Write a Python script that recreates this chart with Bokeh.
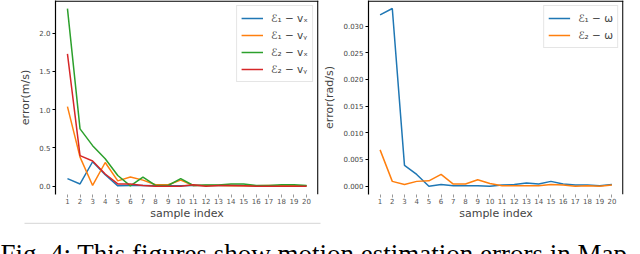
from bokeh.plotting import figure
from bokeh.models import (Range1d, FixedTicker, Legend, LegendItem,
                          PrintfTickFormatter, Label, BoxAnnotation)
from bokeh.layouts import column, row
from bokeh.embed import file_html
from bokeh.resources import INLINE

# ---------------- data ----------------
sample_index = list(range(1, 21))

e1_vx = [0.10, 0.03, 0.32, 0.15, 0.005, 0.01, 0.01, 0.005, 0.005, 0.005,
         0.01, 0.01, 0.01, 0.01, 0.01, 0.005, 0.005, 0.005, 0.005, 0.005]
e1_vy = [1.04, 0.38, 0.01, 0.31, 0.07, 0.12, 0.08, 0.02, 0.02, 0.08,
         0.01, 0.01, 0.01, 0.005, 0.005, 0.005, 0.01, 0.005, 0.005, 0.005]
e2_vx = [2.32, 0.75, 0.53, 0.36, 0.14, 0.005, 0.12, 0.01, 0.01, 0.10,
         0.01, 0.015, 0.015, 0.03, 0.03, 0.01, 0.01, 0.02, 0.02, 0.01]
e2_vy = [1.73, 0.40, 0.33, 0.16, 0.03, 0.03, 0.01, 0.0, 0.0, 0.0,
         0.02, 0.0, 0.01, 0.01, 0.005, 0.0, 0.0, 0.0, 0.0, 0.0]

e1_w = [0.0321, 0.0333, 0.0039, 0.0022, 0.0, 0.0003, 0.0001, 0.0001, 0.0001, 0.0,
        0.0002, 0.0003, 0.0006, 0.0004, 0.0009, 0.0004, 0.0002, 0.0002, 0.0001, 0.0003]
e2_w = [0.0068, 0.0009, 0.0003, 0.0009, 0.0010, 0.0022, 0.0004, 0.0004, 0.0012, 0.0005,
        0.0001, 0.0001, 0.0001, 0.0001, 0.0003, 0.0002, 0.0, 0.0001, 0.0, 0.0002]

left_yticks = [0.0, 0.5, 1.0, 1.5, 2.0]
right_yticks = [0.0, 0.005, 0.010, 0.015, 0.020, 0.025, 0.030]

left_labels = ["ℰ₁ − vₓ", "ℰ₁ − vᵧ", "ℰ₂ − vₓ", "ℰ₂ − vᵧ"]
right_labels = ["ℰ₁ − ω", "ℰ₂ − ω"]

caption = "Fig. 4: This figures show motion estimation errors in Map"

COLORS = ["#1f77b4", "#ff7f0e", "#2ca02c", "#d62728"]
FONT = "DejaVu Sans"
TOP_H = 222
FRAME_H = 194
X0, X1 = 0.05, 20.95


def make_fig(yr, yticks, yfmt, ylabel, bl, br):
    p = figure(width=320, height=TOP_H, x_range=Range1d(X0, X1), y_range=yr,
               output_backend="svg", toolbar_location=None,
               min_border_left=bl, min_border_right=br, min_border_top=0,
               min_border_bottom=TOP_H - FRAME_H)
    p.grid.visible = False
    p.outline_line_color = None
    p.background_fill_color = "white"
    p.border_fill_color = "white"

    xa = p.xaxis[0]
    xa.ticker = FixedTicker(ticks=sample_index)
    xa.axis_line_color = None
    xa.major_tick_line_color = "#999999"
    xa.major_tick_out = 3
    xa.major_tick_in = 0
    xa.minor_tick_line_color = None
    xa.major_label_text_font = FONT
    xa.major_label_text_font_size = "7px"
    xa.major_label_text_color = "#555555"
    xa.major_label_standoff = 0
    xa.axis_label = "sample index"
    xa.axis_label_text_font = FONT
    xa.axis_label_text_font_size = "11px"
    xa.axis_label_text_font_style = "normal"
    xa.axis_label_standoff = 0

    ya = p.yaxis[0]
    ya.ticker = FixedTicker(ticks=yticks)
    ya.formatter = PrintfTickFormatter(format=yfmt)
    ya.axis_line_color = "black"
    ya.axis_line_width = 1.2
    ya.major_tick_line_color = "black"
    ya.major_tick_out = 3
    ya.major_tick_in = 0
    ya.minor_tick_line_color = None
    ya.major_label_text_font = FONT
    ya.major_label_text_font_size = "7px"
    ya.major_label_text_color = "#444444"
    ya.major_label_standoff = 2
    ya.axis_label = ylabel
    ya.axis_label_text_font = FONT
    ya.axis_label_text_font_size = "11px"
    ya.axis_label_text_font_style = "normal"
    ya.axis_label_standoff = 4

    # top and right spines as thin filled strips inside the frame
    frame_w = 320 - bl - br
    dy = (yr.end - yr.start) / FRAME_H * 1.3
    dx = (X1 - X0) / frame_w * 1.3
    p.add_layout(BoxAnnotation(bottom=yr.end - dy, top=yr.end, left=X0, right=X1,
                               fill_color="black", fill_alpha=1, line_color=None))
    p.add_layout(BoxAnnotation(left=X1 - dx, right=X1, bottom=yr.start, top=yr.end,
                               fill_color="black", fill_alpha=1, line_color=None))
    return p


left = make_fig(Range1d(-0.108, 2.427), left_yticks, "%.1f", "error(m/s)", 55, 2)
right = make_fig(Range1d(-0.00156, 0.0348), right_yticks, "%.3f", "error(rad/s)", 42, 17)


def add_legend(p, series, labels):
    items = []
    for ys, lab, col in zip(series, labels, COLORS):
        r = p.line(sample_index, ys, line_color=col, line_width=1.5)
        items.append(LegendItem(label=lab, renderers=[r]))
    lg = Legend(items=items, location="top_right", margin=5, padding=4, spacing=1,
                label_text_font=FONT, label_text_font_size="10.5px",
                label_height=16, glyph_height=16, glyph_width=22, label_standoff=8,
                border_line_color="#cccccc", border_line_width=1,
                background_fill_color="white", background_fill_alpha=0.8)
    p.add_layout(lg)


add_legend(left, [e1_vx, e1_vy, e2_vx, e2_vy], left_labels)
add_legend(right, [e1_w, e2_w], right_labels)

BOT_H = 254 - TOP_H
bottom = figure(width=640, height=BOT_H, x_range=Range1d(0, 640), y_range=Range1d(BOT_H, 0),
                output_backend="svg", toolbar_location=None,
                x_axis_type=None, y_axis_type=None, min_border=0)
bottom.grid.visible = False
bottom.outline_line_color = None
bottom.add_layout(BoxAnnotation(left=24, right=320, top=0, bottom=1.5,
                                fill_color="#dddddd", fill_alpha=1, line_color=None))
bottom.add_layout(Label(x=0, y=BOT_H - 1, text=caption, text_font="Liberation Serif",
                        text_font_size="27px", text_baseline="alphabetic", text_color="black"))

layout = column(row(left, right, spacing=0), bottom, spacing=0)

open("out.html", "w").write(file_html(layout, INLINE))
